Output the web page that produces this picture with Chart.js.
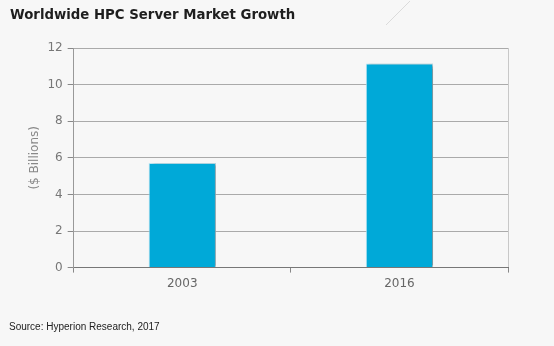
<!DOCTYPE html>
<html><head><meta charset="utf-8">
<script src="https://cdn.jsdelivr.net/npm/chart.js@4"></script>
<style>
html,body{margin:0;padding:0;background:#f7f7f7;}
#wrap{position:relative;width:554px;height:346px;}
#title{position:absolute;left:10px;top:7px;font:bold 13.3px "DejaVu Sans",sans-serif;color:#1e1e1e;white-space:nowrap;}
#src{position:absolute;left:9px;top:321px;font:10px "Liberation Sans",Arial,sans-serif;color:#222;white-space:nowrap;}
#cv{position:absolute;left:0;top:0;}
</style></head>
<body><div id="wrap">
<canvas id="cv" width="554" height="346"></canvas>
<div id="title">Worldwide HPC Server Market Growth</div>
<div id="src">Source: Hyperion Research, 2017</div>
</div>
<script>
const categories = ["2003", "2016"];
const values = [5.72, 11.15];
const yTicks = [0, 2, 4, 6, 8, 10, 12];

const shadowPlugin = {
  id: 'shadow',
  beforeDatasetsDraw(chart) {
    const ctx = chart.ctx; ctx.save();
    ctx.shadowColor = 'rgba(0,0,0,0.35)';
    ctx.shadowOffsetX = 3; ctx.shadowOffsetY = 0; ctx.shadowBlur = 3;
  },
  afterDatasetsDraw(chart) { chart.ctx.restore(); },
  afterDraw(chart) {
    const ctx = chart.ctx; ctx.save();
    ctx.strokeStyle = 'rgba(200,200,200,0.6)'; ctx.lineWidth = 1;
    ctx.beginPath(); ctx.moveTo(386, 25); ctx.lineTo(410, 1); ctx.stroke();
    ctx.restore();
  }
};

new Chart(document.getElementById('cv'), {
  type: 'bar',
  data: { labels: categories, datasets: [{
    data: values, backgroundColor: '#00a9d8', borderColor: '#bfe6f3',
    borderWidth: {left: 1, top: 1, right: 1, bottom: 0}, categoryPercentage: 1, barPercentage: 0.31
  }]},
  options: {
    responsive: false, animation: false,
    layout: { padding: { left: 28, right: 46, top: 48, bottom: 51 } },
    plugins: { legend: { display: false }, tooltip: { enabled: false } },
    scales: {
      x: {
        offset: true,
        grid: { offset: true, drawOnChartArea: true, tickLength: 5,
          color: (c) => (c.index === 1 ? 'rgba(0,0,0,0)' : '#c8c8c8'),
          tickColor: '#888' },
        border: { color: '#777' },
        ticks: { color: '#666', font: { family: 'DejaVu Sans', size: 12 }, padding: 4 }
      },
      y: {
        min: 0, max: 12,
        afterBuildTicks: (axis) => { axis.ticks = yTicks.map(v => ({ value: v })); },
        grid: { color: '#aaaaaa', tickLength: 6, tickColor: '#888' },
        border: { color: '#999' },
        ticks: { color: '#777', font: { family: 'DejaVu Sans', size: 12 }, padding: 5 },
        title: { display: true, text: '($ Billions)', color: '#888',
          font: { family: 'DejaVu Sans', size: 12 }, padding: { top: 0, bottom: 0 } }
      }
    }
  },
  plugins: [shadowPlugin]
});
</script>
</body></html>
